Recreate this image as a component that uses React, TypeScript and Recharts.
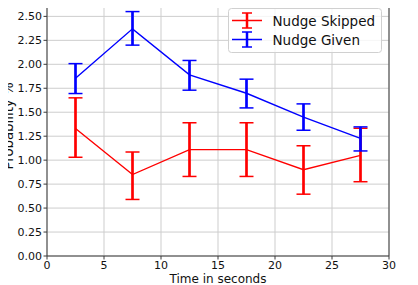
import React from "react";
import {
  ComposedChart,
  Line,
  XAxis,
  YAxis,
  CartesianGrid,
  ErrorBar,
  ReferenceLine,
  Label,
} from "recharts";

const times = [2.5, 7.5, 12.5, 17.5, 22.5, 27.5];
const skippedMean = [1.33, 0.85, 1.11, 1.11, 0.9, 1.05];
const skippedLow = [1.03, 0.59, 0.83, 0.83, 0.645, 0.775];
const skippedHigh = [1.65, 1.085, 1.39, 1.39, 1.15, 1.333];
const givenMean = [1.855, 2.37, 1.89, 1.698, 1.448, 1.228];
const givenLow = [1.695, 2.2, 1.73, 1.545, 1.312, 1.096];
const givenHigh = [2.007, 2.55, 2.04, 1.845, 1.587, 1.347];
const xTicks = [0, 5, 10, 15, 20, 25, 30];
const yTicks = [0, 0.25, 0.5, 0.75, 1.0, 1.25, 1.5, 1.75, 2.0, 2.25, 2.5];
const seriesNames = ["Nudge Skipped", "Nudge Given"];

const data = times.map((t, i) => ({
  t,
  skipped: skippedMean[i],
  skippedErr: [skippedMean[i] - skippedLow[i], skippedHigh[i] - skippedMean[i]],
  given: givenMean[i],
  givenErr: [givenMean[i] - givenLow[i], givenHigh[i] - givenMean[i]],
}));

const FONT = "DejaVu Sans, sans-serif";
const SPINE = "#3a3a3a";

const LegendIcon = ({ cy, color }: { cy: number; color: string }) => (
  <g>
    <line x1={232} x2={262} y1={cy} y2={cy} stroke={color} strokeWidth={1.5} />
    <line x1={247} x2={247} y1={cy - 7.5} y2={cy + 7.5} stroke={color} strokeWidth={2.5} />
    <line x1={242} x2={252} y1={cy - 7.5} y2={cy - 7.5} stroke={color} strokeWidth={1.5} />
    <line x1={242} x2={252} y1={cy + 7.5} y2={cy + 7.5} stroke={color} strokeWidth={1.5} />
  </g>
);

export default function App() {
  return (
    <div style={{ position: "relative", width: 418, height: 285, marginLeft: -8, marginTop: -8, background: "#fff" }}>
      <ComposedChart
        width={418}
        height={285}
        data={data}
        margin={{ top: 2, right: 29, bottom: 0, left: 0 }}
        style={{ fontFamily: FONT }}
      >
        <CartesianGrid stroke="#cdcdcd" strokeWidth={1} />
        <XAxis
          dataKey="t"
          type="number"
          domain={[0, 30]}
          ticks={xTicks}
          height={29}
          tickSize={3.5}
          tickMargin={2}
          stroke={SPINE}
          tick={{ fill: "#111", fontSize: 11, fontFamily: FONT }}
          tickLine={{ stroke: SPINE }}
          axisLine={{ stroke: SPINE }}
          interval={0}
        >
          <Label
            value="Time in seconds"
            position="insideBottom"
            offset={2}
            style={{ fontSize: 12, fill: "#111", fontFamily: FONT }}
          />
        </XAxis>
        <YAxis
          type="number"
          domain={[0, 2.65]}
          ticks={yTicks}
          width={47}
          tickSize={3.5}
          tickMargin={1.5}
          stroke={SPINE}
          tick={{ fill: "#111", fontSize: 11, fontFamily: FONT }}
          tickLine={{ stroke: SPINE }}
          axisLine={{ stroke: SPINE }}
          tickFormatter={(v: number) => v.toFixed(2)}
          interval={0}
          allowDataOverflow
        />
        <ReferenceLine y={2.65} stroke={SPINE} strokeWidth={1} />
        <ReferenceLine x={30} stroke={SPINE} strokeWidth={1} />
        <Line
          dataKey="skipped"
          name={seriesNames[0]}
          stroke="#ff0000"
          strokeWidth={1.4}
          dot={false}
          activeDot={false}
          isAnimationActive={false}
        >
          <ErrorBar dataKey="skippedErr" direction="y" width={7} stroke="#ff0000" strokeWidth={1.5} isAnimationActive={false} />
          <ErrorBar dataKey="skippedErr" direction="y" width={0} stroke="#ff0000" strokeWidth={2.6} isAnimationActive={false} />
        </Line>
        <Line
          dataKey="given"
          name={seriesNames[1]}
          stroke="#0000ff"
          strokeWidth={1.4}
          dot={false}
          activeDot={false}
          isAnimationActive={false}
        >
          <ErrorBar dataKey="givenErr" direction="y" width={7} stroke="#0000ff" strokeWidth={1.5} isAnimationActive={false} />
          <ErrorBar dataKey="givenErr" direction="y" width={0} stroke="#0000ff" strokeWidth={2.6} isAnimationActive={false} />
        </Line>
      </ComposedChart>
      <svg
        width={418}
        height={285}
        style={{ position: "absolute", left: 0, top: 0, pointerEvents: "none" }}
      >
        <text
          x={12.5}
          y={126}
          transform="rotate(-90, 12.5, 126)"
          textAnchor="middle"
          style={{ fontSize: 13.3, fill: "#111", fontFamily: FONT }}
        >
          Probability %
        </text>
        <rect x={228.5} y={8.5} width={153} height={44} rx={3} fill="rgba(255,255,255,0.8)" stroke="#d0d0d0" strokeWidth={1} />
        <LegendIcon cy={20.5} color="#ff0000" />
        <LegendIcon cy={39.5} color="#0000ff" />
        <text x={272.5} y={25.5} style={{ fontSize: 13.5, fill: "#111", fontFamily: FONT }}>
          {seriesNames[0]}
        </text>
        <text x={272.5} y={44.5} style={{ fontSize: 13.5, fill: "#111", fontFamily: FONT }}>
          {seriesNames[1]}
        </text>
      </svg>
    </div>
  );
}
